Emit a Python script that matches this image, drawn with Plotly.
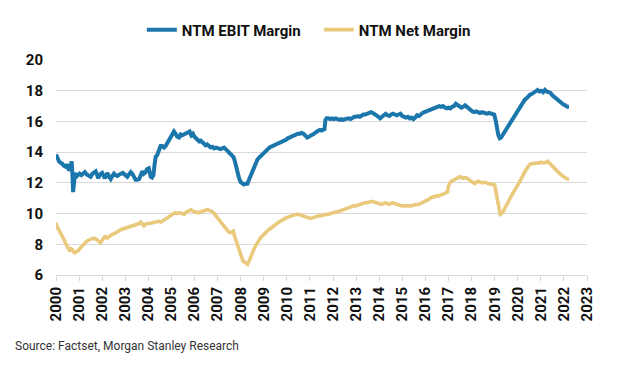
import plotly.graph_objects as go

years_tick = list(range(2000, 2024))
tick_labels = [str(y) for y in years_tick]

ebit_x = [2000.00, 2000.08, 2000.13, 2000.20, 2000.27, 2000.35, 2000.42, 2000.50, 2000.56, 2000.62,
          2000.68, 2000.71, 2000.74, 2000.78, 2000.82, 2000.88, 2000.95, 2001.02, 2001.10, 2001.18,
          2001.25, 2001.33, 2001.42, 2001.50, 2001.58, 2001.66, 2001.72, 2001.78, 2001.83, 2001.90,
          2002.00, 2002.06, 2002.12, 2002.18, 2002.22, 2002.30, 2002.37, 2002.44, 2002.51, 2002.58,
          2002.66, 2002.75, 2002.83, 2002.90, 2002.97, 2003.05, 2003.09, 2003.16, 2003.24, 2003.30,
          2003.38, 2003.45, 2003.52, 2003.60, 2003.67, 2003.74, 2003.80, 2003.88, 2003.95, 2004.02,
          2004.06, 2004.10, 2004.16, 2004.22, 2004.27, 2004.32, 2004.38, 2004.46, 2004.53, 2004.60,
          2004.68, 2004.75, 2004.82, 2004.90, 2004.97, 2005.04, 2005.11, 2005.18, 2005.25, 2005.33,
          2005.40, 2005.47, 2005.54, 2005.62, 2005.70, 2005.79, 2005.86, 2005.93, 2006.00, 2006.06,
          2006.13, 2006.20, 2006.27, 2006.35, 2006.42, 2006.48, 2006.55, 2006.63, 2006.70, 2006.78,
          2006.85, 2006.93, 2007.00, 2007.06, 2007.14, 2007.21, 2007.28, 2007.35, 2007.42, 2007.49,
          2007.56, 2007.62, 2007.68, 2007.74, 2007.80, 2007.87, 2007.93, 2008.00, 2008.07, 2008.14,
          2008.22, 2008.29, 2008.36, 2008.43, 2008.50, 2008.58, 2008.65, 2008.72, 2008.80, 2008.86,
          2008.94, 2009.02, 2009.10, 2009.18, 2009.25, 2009.33, 2009.40, 2009.48, 2009.56, 2009.64,
          2009.72, 2009.80, 2009.88, 2009.96, 2010.04, 2010.10, 2010.17, 2010.24, 2010.32, 2010.40,
          2010.48, 2010.56, 2010.64, 2010.72, 2010.80, 2010.88, 2010.95, 2011.02, 2011.10, 2011.18,
          2011.26, 2011.34, 2011.42, 2011.50, 2011.58, 2011.63, 2011.67, 2011.72, 2011.80, 2011.88,
          2011.96, 2012.04, 2012.12, 2012.20, 2012.28, 2012.36, 2012.44, 2012.52, 2012.60, 2012.68,
          2012.76, 2012.84, 2012.92, 2013.00, 2013.08, 2013.16, 2013.24, 2013.32, 2013.40, 2013.48,
          2013.56, 2013.64, 2013.72, 2013.80, 2013.88, 2013.96, 2014.04, 2014.12, 2014.20, 2014.28,
          2014.36, 2014.44, 2014.52, 2014.60, 2014.68, 2014.76, 2014.84, 2014.92, 2015.00, 2015.08,
          2015.16, 2015.24, 2015.32, 2015.40, 2015.48, 2015.56, 2015.64, 2015.72, 2015.80, 2015.88,
          2015.96, 2016.04, 2016.12, 2016.20, 2016.28, 2016.36, 2016.44, 2016.52, 2016.60, 2016.68,
          2016.76, 2016.84, 2016.92, 2017.00, 2017.08, 2017.16, 2017.24, 2017.32, 2017.40, 2017.48,
          2017.56, 2017.64, 2017.72, 2017.80, 2017.88, 2017.96, 2018.04, 2018.12, 2018.20, 2018.28,
          2018.36, 2018.44, 2018.52, 2018.60, 2018.68, 2018.76, 2018.84, 2018.92, 2018.98, 2019.04,
          2019.10, 2019.16, 2019.22, 2019.28, 2019.34, 2019.42, 2019.50, 2019.58, 2019.66, 2019.74,
          2019.82, 2019.90, 2019.98, 2020.06, 2020.14, 2020.22, 2020.30, 2020.38, 2020.46, 2020.54,
          2020.62, 2020.70, 2020.78, 2020.86, 2020.94, 2021.02, 2021.10, 2021.18, 2021.26, 2021.34,
          2021.42, 2021.50, 2021.58, 2021.66, 2021.74, 2021.82, 2021.90, 2021.98, 2022.06, 2022.14,
          2022.22]
ebit_y = [13.85, 13.5, 13.4, 13.3, 13.25, 13.1, 13.05, 13.2, 12.8, 13.0,
          13.4, 12.6, 11.4, 12.0, 12.65, 12.4, 12.5, 12.6, 12.5, 12.65,
          12.7, 12.55, 12.45, 12.4, 12.6, 12.7, 12.75, 12.5, 12.3, 12.55,
          12.65, 12.45, 12.3, 12.5, 12.65, 12.4, 12.25, 12.45, 12.6, 12.5,
          12.45, 12.55, 12.6, 12.65, 12.55, 12.45, 12.4, 12.55, 12.7, 12.6,
          12.35, 12.2, 12.2, 12.25, 12.5, 12.75, 12.6, 12.7, 12.9, 12.95,
          12.7, 12.4, 12.35, 12.5, 13.2, 13.7, 13.8, 14.15, 14.4, 14.4,
          14.3, 14.4, 14.6, 14.8, 15.0, 15.2, 15.35, 15.2, 15.0, 14.95,
          15.15, 15.1, 15.15, 15.25, 15.3, 15.35, 15.1, 15.2, 15.0, 14.9,
          14.8, 14.7, 14.75, 14.6, 14.5, 14.45, 14.5, 14.4, 14.3, 14.35,
          14.25, 14.3, 14.25, 14.25, 14.2, 14.25, 14.3, 14.2, 14.1, 14.0,
          13.9, 13.85, 13.7, 13.45, 13.0, 12.6, 12.3, 12.05, 11.95, 11.9,
          11.95, 11.95, 12.2, 12.45, 12.8, 13.1, 13.3, 13.5, 13.65, 13.75,
          13.85, 14.0, 14.1, 14.2, 14.3, 14.35, 14.4, 14.5, 14.55, 14.6,
          14.65, 14.7, 14.75, 14.8, 14.9, 14.95, 15.0, 15.05, 15.1, 15.15,
          15.2, 15.2, 15.25, 15.2, 15.1, 14.95, 15.0, 15.05, 15.15, 15.2,
          15.3, 15.35, 15.45, 15.4, 15.45, 15.5, 16.1, 16.2, 16.2, 16.15,
          16.2, 16.15, 16.2, 16.15, 16.1, 16.15, 16.1, 16.15, 16.2, 16.2,
          16.15, 16.25, 16.3, 16.3, 16.35, 16.3, 16.4, 16.45, 16.45, 16.5,
          16.55, 16.6, 16.55, 16.5, 16.4, 16.3, 16.2, 16.3, 16.4, 16.5,
          16.4, 16.35, 16.45, 16.5, 16.45, 16.4, 16.45, 16.5, 16.35, 16.3,
          16.25, 16.3, 16.2, 16.25, 16.15, 16.25, 16.4, 16.35, 16.5, 16.55,
          16.6, 16.65, 16.7, 16.75, 16.8, 16.85, 16.9, 16.95, 17.0, 16.95,
          17.0, 16.9, 16.85, 16.9, 16.85, 16.95, 17.0, 17.15, 17.05, 16.95,
          16.9, 16.95, 17.05, 16.95, 16.85, 16.7, 16.65, 16.6, 16.65, 16.6,
          16.55, 16.6, 16.55, 16.55, 16.5, 16.55, 16.5, 16.5, 16.45, 16.1,
          15.5, 15.1, 14.9, 14.95, 15.1, 15.3, 15.5, 15.7, 15.9, 16.05,
          16.25, 16.45, 16.6, 16.8, 17.0, 17.2, 17.4, 17.5, 17.65, 17.75,
          17.8, 17.9, 17.95, 18.05, 17.95, 18.0, 17.9, 18.05, 17.95, 17.9,
          17.85, 17.7, 17.6, 17.45, 17.4, 17.3, 17.15, 17.1, 17.05, 16.95,
          16.95]

net_x = [2000.00, 2000.05, 2000.12, 2000.20, 2000.28, 2000.35, 2000.42, 2000.49, 2000.55, 2000.60,
         2000.66, 2000.71, 2000.76, 2000.82, 2000.90, 2000.97, 2001.05, 2001.13, 2001.21, 2001.30,
         2001.38, 2001.46, 2001.55, 2001.63, 2001.71, 2001.79, 2001.86, 2001.93, 2002.00, 2002.08,
         2002.15, 2002.22, 2002.30, 2002.37, 2002.45, 2002.52, 2002.60, 2002.70, 2002.80, 2002.90,
         2003.00, 2003.10, 2003.20, 2003.30, 2003.40, 2003.50, 2003.60, 2003.67, 2003.74, 2003.81,
         2003.88, 2003.95, 2004.05, 2004.15, 2004.25, 2004.35, 2004.45, 2004.55, 2004.65, 2004.75,
         2004.85, 2004.95, 2005.05, 2005.15, 2005.25, 2005.35, 2005.45, 2005.55, 2005.65, 2005.75,
         2005.85, 2005.95, 2006.05, 2006.15, 2006.25, 2006.35, 2006.45, 2006.55, 2006.65, 2006.75,
         2006.85, 2006.95, 2007.05, 2007.15, 2007.25, 2007.35, 2007.45, 2007.55, 2007.62, 2007.68,
         2007.74, 2007.80, 2007.86, 2007.92, 2007.98, 2008.04, 2008.10, 2008.17, 2008.24, 2008.30,
         2008.36, 2008.43, 2008.50, 2008.58, 2008.66, 2008.74, 2008.82, 2008.90, 2008.98, 2009.06,
         2009.14, 2009.22, 2009.30, 2009.38, 2009.46, 2009.54, 2009.62, 2009.70, 2009.78, 2009.86,
         2009.94, 2010.02, 2010.10, 2010.18, 2010.26, 2010.34, 2010.42, 2010.50, 2010.58, 2010.66,
         2010.74, 2010.82, 2010.90, 2010.98, 2011.06, 2011.14, 2011.22, 2011.30, 2011.38, 2011.46,
         2011.54, 2011.62, 2011.70, 2011.78, 2011.86, 2011.94, 2012.02, 2012.10, 2012.18, 2012.26,
         2012.34, 2012.42, 2012.50, 2012.58, 2012.66, 2012.74, 2012.82, 2012.90, 2012.98, 2013.06,
         2013.14, 2013.22, 2013.30, 2013.38, 2013.46, 2013.54, 2013.62, 2013.70, 2013.78, 2013.86,
         2013.94, 2014.02, 2014.10, 2014.18, 2014.26, 2014.34, 2014.42, 2014.50, 2014.58, 2014.66,
         2014.74, 2014.82, 2014.90, 2014.98, 2015.06, 2015.14, 2015.22, 2015.30, 2015.38, 2015.46,
         2015.54, 2015.62, 2015.70, 2015.78, 2015.86, 2015.94, 2016.02, 2016.10, 2016.18, 2016.26,
         2016.34, 2016.42, 2016.50, 2016.58, 2016.66, 2016.74, 2016.82, 2016.90, 2016.96, 2017.00,
         2017.04, 2017.10, 2017.18, 2017.26, 2017.34, 2017.42, 2017.50, 2017.58, 2017.66, 2017.74,
         2017.82, 2017.90, 2017.98, 2018.06, 2018.14, 2018.22, 2018.30, 2018.38, 2018.46, 2018.54,
         2018.62, 2018.70, 2018.78, 2018.86, 2018.94, 2019.00, 2019.06, 2019.12, 2019.18, 2019.24,
         2019.30, 2019.36, 2019.44, 2019.52, 2019.60, 2019.68, 2019.76, 2019.84, 2019.92, 2020.00,
         2020.06, 2020.12, 2020.18, 2020.24, 2020.30, 2020.36, 2020.44, 2020.52, 2020.60, 2020.68,
         2020.76, 2020.84, 2020.92, 2021.00, 2021.08, 2021.16, 2021.24, 2021.30, 2021.36, 2021.42,
         2021.50, 2021.58, 2021.66, 2021.74, 2021.82, 2021.90, 2021.98, 2022.06, 2022.14, 2022.22]
net_y = [9.4, 9.1, 8.95, 8.75, 8.5, 8.3, 8.05, 7.85, 7.65, 7.55,
         7.7, 7.65, 7.5, 7.45, 7.55, 7.6, 7.75, 7.9, 8.05, 8.15,
         8.25, 8.3, 8.35, 8.4, 8.35, 8.25, 8.15, 8.1, 8.25, 8.45,
         8.5, 8.4, 8.5, 8.6, 8.65, 8.7, 8.75, 8.85, 8.95, 9.0,
         9.05, 9.15, 9.2, 9.2, 9.25, 9.3, 9.35, 9.45, 9.3, 9.2,
         9.3, 9.35, 9.35, 9.4, 9.45, 9.5, 9.5, 9.45, 9.55, 9.65,
         9.75, 9.9, 10.0, 10.05, 10.0, 10.05, 10.0, 9.95, 10.1, 10.2,
         10.25, 10.15, 10.1, 10.05, 10.1, 10.15, 10.2, 10.25, 10.2, 10.15,
         10.0, 9.8, 9.6, 9.4, 9.2, 9.05, 8.85, 8.75, 8.8, 8.85,
         8.5, 8.2, 7.9, 7.65, 7.4, 7.0, 6.9, 6.85, 6.8, 6.7,
         6.9, 7.2, 7.45, 7.7, 7.95, 8.15, 8.35, 8.5, 8.6, 8.75,
         8.85, 8.95, 9.05, 9.15, 9.25, 9.35, 9.4, 9.5, 9.55, 9.65,
         9.7, 9.75, 9.8, 9.8, 9.85, 9.9, 9.95, 9.95, 9.9, 9.9,
         9.85, 9.8, 9.75, 9.7, 9.7, 9.75, 9.8, 9.8, 9.85, 9.85,
         9.9, 9.9, 9.95, 9.95, 10.0, 10.0, 10.05, 10.1, 10.1, 10.15,
         10.2, 10.25, 10.3, 10.3, 10.35, 10.4, 10.45, 10.5, 10.5, 10.55,
         10.55, 10.6, 10.65, 10.7, 10.7, 10.75, 10.8, 10.8, 10.75, 10.7,
         10.65, 10.6, 10.6, 10.65, 10.7, 10.65, 10.6, 10.65, 10.7, 10.65,
         10.6, 10.55, 10.55, 10.5, 10.5, 10.5, 10.45, 10.5, 10.5, 10.55,
         10.55, 10.6, 10.6, 10.65, 10.7, 10.75, 10.8, 10.85, 10.95, 11.05,
         11.1, 11.1, 11.15, 11.15, 11.2, 11.2, 11.25, 11.3, 11.4, 11.8,
         12.0, 12.1, 12.15, 12.2, 12.3, 12.35, 12.4, 12.35, 12.3, 12.35,
         12.3, 12.2, 12.1, 12.0, 11.95, 12.05, 12.1, 12.05, 12.0, 12.05,
         12.0, 11.95, 11.95, 11.9, 11.9, 11.85, 11.4, 10.9, 10.2, 9.95,
         10.0, 10.1, 10.35, 10.6, 10.85, 11.05, 11.25, 11.45, 11.7, 11.85,
         12.0, 12.2, 12.4, 12.55, 12.7, 12.85, 13.05, 13.2, 13.25, 13.25,
         13.3, 13.25, 13.3, 13.35, 13.3, 13.3, 13.35, 13.4, 13.3, 13.2,
         13.05, 12.95, 12.85, 12.7, 12.6, 12.5, 12.4, 12.3, 12.25, 12.25]

y_ticks = [6, 8, 10, 12, 14, 16, 18, 20]

BLUE = "#1b76ab"
TAN = "#e9c97c"
FONT = "Roboto"

fig = go.Figure()
fig.add_trace(go.Scatter(x=ebit_x, y=ebit_y, mode="lines", name="NTM EBIT Margin",
                         line=dict(color=BLUE, width=4)))
fig.add_trace(go.Scatter(x=net_x, y=net_y, mode="lines", name="NTM Net Margin",
                         line=dict(color=TAN, width=3.6)))

# the page body adds an 8px offset, so the figure is 8px smaller than the window
fig.update_layout(
    width=612, height=362,
    margin=dict(l=48, r=33, t=52, b=95, autoexpand=False),
    paper_bgcolor="white", plot_bgcolor="white",
    font=dict(family=FONT, color="#111111"),
    showlegend=True,
    legend=dict(orientation="h", x=0.495, xanchor="center", y=1.14, yanchor="middle",
                font=dict(family=FONT, size=15, color="#111111", weight="bold"),
                itemwidth=30, entrywidth=132, traceorder="normal"),
    xaxis=dict(range=[2000, 2023], tickmode="array", tickvals=years_tick, ticktext=tick_labels,
               tickangle=-90, showgrid=False, zeroline=False,
               showline=True, linecolor="#d9d9d9", linewidth=1,
               ticks="outside", ticklen=5, tickcolor="#d9d9d9",
               tickfont=dict(family=FONT, size=15, color="#111111", weight="bold")),
    yaxis=dict(range=[6, 20], tickmode="array", tickvals=y_ticks,
               showgrid=True, gridcolor="#d9d9d9", gridwidth=1, zeroline=False,
               showline=False, ticks="", ticklabelstandoff=12,
               tickfont=dict(family=FONT, size=15, color="#111111", weight="bold")),
    annotations=[dict(text="Source: Factset, Morgan Stanley Research", xref="paper", yref="paper",
                      x=-0.081, y=-0.33, xanchor="left", yanchor="middle", showarrow=False,
                      font=dict(family=FONT, size=12, color="#333333"))],
)

fig.write_html("out.html")
